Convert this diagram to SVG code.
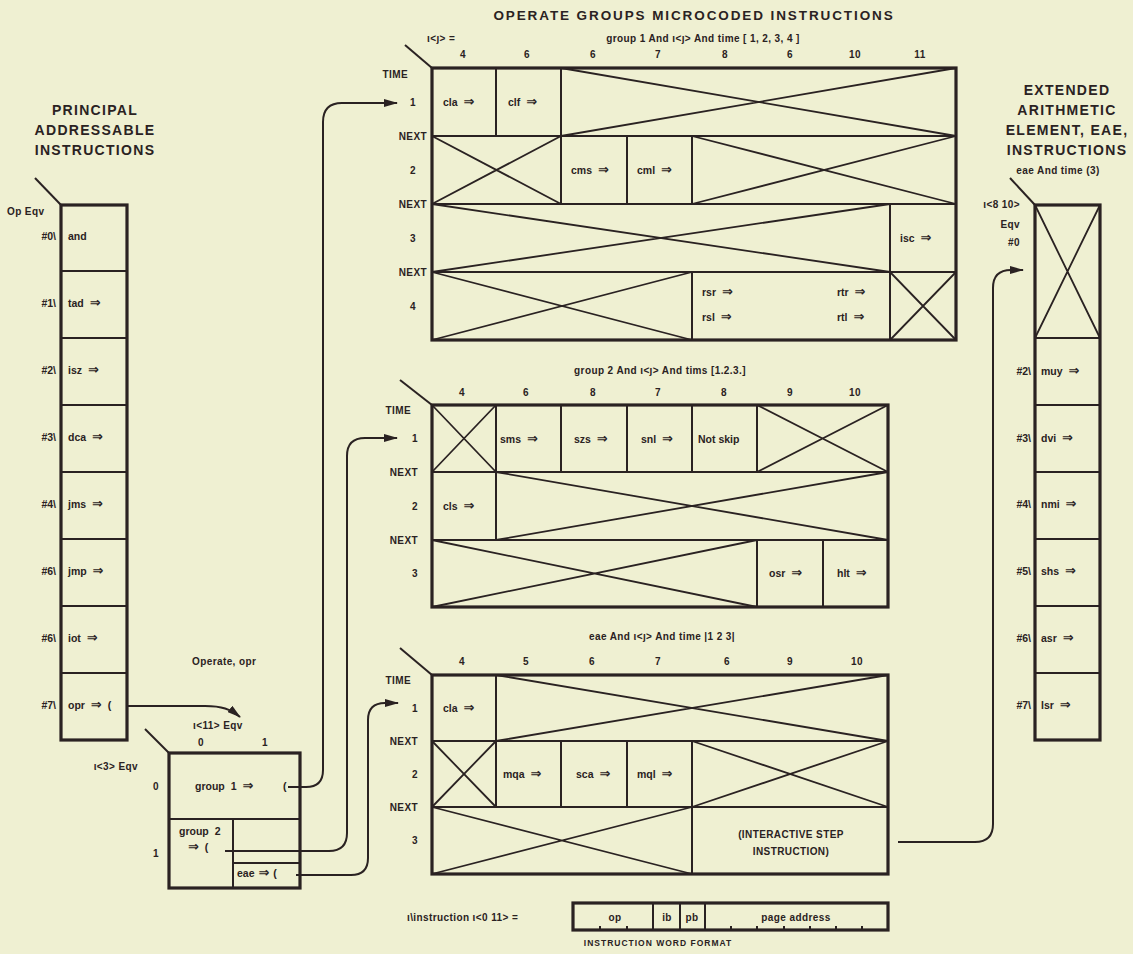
<svg xmlns="http://www.w3.org/2000/svg" width="1133" height="954" viewBox="0 0 1133 954">
<defs>
<style>
.t{font-family:"Liberation Sans","DejaVu Sans",sans-serif;font-weight:bold;fill:#2a2222}
.c{font-size:10.5px;word-spacing:3px}
.s{font-size:10px;letter-spacing:0.4px}
.h{font-size:14px;letter-spacing:1.3px;text-anchor:middle}
.m{text-anchor:middle}
.e{text-anchor:end}
.a{font-family:"DejaVu Sans",sans-serif;font-size:13px;font-weight:bold}
.g{stroke:#2a2222;stroke-width:2;fill:none}
.o{stroke:#2a2222;stroke-width:3.2;fill:none}
.x{stroke:#2a2222;stroke-width:1.8;fill:none}
.k{stroke:#2a2222;stroke-width:2;fill:none}
</style>
<marker id="ah" viewBox="0 0 14 8" refX="13" refY="4" markerWidth="14" markerHeight="8" markerUnits="userSpaceOnUse" orient="auto"><path d="M0,0 L14,4 L0,8 z" fill="#2a2222"/></marker>
</defs>
<rect width="1133" height="954" fill="#eff0d2"/>

<g id="principal">
<text class="t h" x="95" y="115">PRINCIPAL</text>
<text class="t h" x="95" y="135">ADDRESSABLE</text>
<text class="t h" x="95" y="155">INSTRUCTIONS</text>
<path class="g" d="M35,178L61,205"/>
<text class="t s" x="7" y="215">Op Eqv</text>
<rect class="o" x="61" y="205" width="66" height="535"/>
<path class="g" d="M61,271H127M61,338H127M61,405H127M61,472H127M61,539H127M61,606H127M61,673H127"/>
<g class="t c">
<text class="e" x="56" y="240">#0\</text><text x="68" y="240">and</text>
<text class="e" x="56" y="307">#1\</text><text x="68" y="307">tad <tspan class="a">⇒</tspan></text>
<text class="e" x="56" y="374">#2\</text><text x="68" y="374">isz <tspan class="a">⇒</tspan></text>
<text class="e" x="56" y="441">#3\</text><text x="68" y="441">dca <tspan class="a">⇒</tspan></text>
<text class="e" x="56" y="508">#4\</text><text x="68" y="508">jms <tspan class="a">⇒</tspan></text>
<text class="e" x="56" y="575">#6\</text><text x="68" y="575">jmp <tspan class="a">⇒</tspan></text>
<text class="e" x="56" y="642">#6\</text><text x="68" y="642">iot <tspan class="a">⇒</tspan></text>
<text class="e" x="56" y="709">#7\</text><text x="68" y="709">opr <tspan class="a">⇒</tspan> (</text>
</g>
</g>

<g id="operate-title">
<text class="t" x="694" y="20" font-size="13.5" letter-spacing="1.9" text-anchor="middle">OPERATE GROUPS MICROCODED INSTRUCTIONS</text>
<text class="t s" x="427" y="42">ι&lt;ȷ&gt; =</text>
</g>

<g id="group1-grid">
<text class="t s m" x="703" y="42">group  1 And ι&lt;ȷ&gt; And time [ 1, 2, 3, 4 ]</text>
<path class="g" d="M405,45L432,68"/>
<g class="t s m">
<text x="463" y="58">4</text><text x="527" y="58">6</text><text x="593" y="58">6</text><text x="658" y="58">7</text><text x="725" y="58">8</text><text x="790" y="58">6</text><text x="855" y="58">10</text><text x="920" y="58">11</text>
</g>
<g class="t s e">
<text x="408" y="78">TIME</text><text x="416" y="106">1</text><text x="427" y="140">NEXT</text><text x="416" y="174">2</text><text x="427" y="208">NEXT</text><text x="416" y="242">3</text><text x="427" y="276">NEXT</text><text x="416" y="310">4</text>
</g>
<rect class="o" x="432" y="68" width="524" height="272"/>
<path class="g" d="M432,136H956M432,204H956M432,272H956M496,68V136M561,68V136M561,136V204M627,136V204M692,136V204M890,204V272M692,272V340M890,272V340"/>
<path class="x" d="M561,68L956,136M561,136L956,68M432,136L561,204M432,204L561,136M692,136L956,204M692,204L956,136M432,204L890,272M432,272L890,204M432,272L692,340M432,340L692,272M890,272L956,340M890,340L956,272"/>
<g class="t c">
<text x="443" y="106">cla <tspan class="a">⇒</tspan></text><text x="508" y="106">clf <tspan class="a">⇒</tspan></text>
<text x="571" y="174">cms <tspan class="a">⇒</tspan></text><text x="637" y="174">cml <tspan class="a">⇒</tspan></text>
<text x="900" y="242">isc <tspan class="a">⇒</tspan></text>
<text x="702" y="296">rsr <tspan class="a">⇒</tspan></text><text x="702" y="321">rsl <tspan class="a">⇒</tspan></text>
<text x="837" y="296">rtr <tspan class="a">⇒</tspan></text><text x="837" y="321">rtl <tspan class="a">⇒</tspan></text>
</g>
</g>

<g id="group2-grid">
<text class="t s m" x="660" y="374">group 2 And ι&lt;ȷ&gt; And tims [1.2.3.]</text>
<path class="g" d="M400,380L432,405"/>
<g class="t s m">
<text x="462" y="396">4</text><text x="526" y="396">6</text><text x="593" y="396">8</text><text x="658" y="396">7</text><text x="724" y="396">8</text><text x="790" y="396">9</text><text x="855" y="396">10</text>
</g>
<g class="t s e">
<text x="411" y="414">TIME</text><text x="418" y="442">1</text><text x="418" y="476">NEXT</text><text x="418" y="510">2</text><text x="418" y="544">NEXT</text><text x="418" y="577">3</text>
</g>
<rect class="o" x="432" y="405" width="456" height="202"/>
<path class="g" d="M432,472H888M432,540H888M496,405V472M561,405V472M627,405V472M692,405V472M757,405V472M496,472V540M757,540V607M823,540V607"/>
<path class="x" d="M432,405L496,472M432,472L496,405M757,405L888,472M757,472L888,405M496,472L888,540M496,540L888,472M432,540L757,607M432,607L757,540"/>
<g class="t c">
<text x="500" y="443">sms <tspan class="a">⇒</tspan></text><text x="574" y="443">szs <tspan class="a">⇒</tspan></text><text x="641" y="443">snl <tspan class="a">⇒</tspan></text><text x="698" y="443" word-spacing="0">Not skip</text>
<text x="443" y="510">cls <tspan class="a">⇒</tspan></text>
<text x="769" y="577">osr <tspan class="a">⇒</tspan></text><text x="837" y="577">hlt <tspan class="a">⇒</tspan></text>
</g>
</g>

<g id="eae-grid">
<text class="t s m" x="662" y="640">eae And ι&lt;ȷ&gt; And time |1 2 3|</text>
<path class="g" d="M400,648L432,675"/>
<g class="t s m">
<text x="462" y="665">4</text><text x="526" y="665">5</text><text x="592" y="665">6</text><text x="658" y="665">7</text><text x="727" y="665">6</text><text x="790" y="665">9</text><text x="857" y="665">10</text>
</g>
<g class="t s e">
<text x="411" y="684">TIME</text><text x="418" y="712">1</text><text x="418" y="745">NEXT</text><text x="418" y="778">2</text><text x="418" y="811">NEXT</text><text x="418" y="844">3</text>
</g>
<rect class="o" x="432" y="675" width="456" height="199"/>
<path class="g" d="M432,741H888M432,807H888M496,675V741M496,741V807M561,741V807M627,741V807M692,741V807M692,807V874"/>
<path class="x" d="M496,675L888,741M496,741L888,675M432,741L496,807M432,807L496,741M692,741L888,807M692,807L888,741M432,807L692,874M432,874L692,807"/>
<g class="t c">
<text x="443" y="712">cla <tspan class="a">⇒</tspan></text>
<text x="503" y="778">mqa <tspan class="a">⇒</tspan></text><text x="576" y="778">sca <tspan class="a">⇒</tspan></text><text x="637" y="778">mql <tspan class="a">⇒</tspan></text>
</g>
<g class="t s m" font-size="9.5" letter-spacing="1">
<text x="791" y="838">(INTERACTIVE STEP</text><text x="791" y="855">INSTRUCTION)</text>
</g>
</g>

<g id="eae-column">
<text class="t h" x="1067" y="95">EXTENDED</text>
<text class="t h" x="1067" y="115">ARITHMETIC</text>
<text class="t h" x="1067" y="135">ELEMENT, EAE,</text>
<text class="t h" x="1067" y="155">INSTRUCTIONS</text>
<text class="t s m" x="1058" y="174">eae And time (3)</text>
<path class="g" d="M1010,178L1035,205"/>
<text class="t s e" x="1020" y="208">ι&lt;8 10&gt;</text>
<text class="t s e" x="1020" y="228">Eqv</text>
<text class="t s e" x="1020" y="246">#0</text>
<rect class="o" x="1035" y="205" width="65" height="535"/>
<path class="g" d="M1035,338H1100M1035,405H1100M1035,472H1100M1035,539H1100M1035,606H1100M1035,673H1100"/>
<path class="x" d="M1035,205L1100,338M1035,338L1100,205"/>
<g class="t c">
<text class="e" x="1031" y="375">#2\</text><text x="1041" y="375">muy <tspan class="a">⇒</tspan></text>
<text class="e" x="1031" y="442">#3\</text><text x="1041" y="442">dvi <tspan class="a">⇒</tspan></text>
<text class="e" x="1031" y="508">#4\</text><text x="1041" y="508">nmi <tspan class="a">⇒</tspan></text>
<text class="e" x="1031" y="575">#5\</text><text x="1041" y="575">shs <tspan class="a">⇒</tspan></text>
<text class="e" x="1031" y="642">#6\</text><text x="1041" y="642">asr <tspan class="a">⇒</tspan></text>
<text class="e" x="1031" y="709">#7\</text><text x="1041" y="709">lsr <tspan class="a">⇒</tspan></text>
</g>
</g>

<g id="selector">
<text class="t s" x="192" y="665">Operate, opr</text>
<text class="t s" x="193" y="729">ι&lt;11&gt; Eqv</text>
<text class="t s m" x="201" y="746">0</text><text class="t s m" x="265" y="746">1</text>
<text class="t s e" x="138" y="770">ι&lt;3&gt; Eqv</text>
<text class="t s m" x="156" y="790">0</text><text class="t s m" x="156" y="857">1</text>
<path class="g" d="M145,729L169,753"/>
<rect class="o" x="169" y="753" width="131" height="135"/>
<path class="g" d="M169,819H300M233,819V888M233,863H300"/>
<g class="t c">
<text x="195" y="790">group 1 <tspan class="a">⇒</tspan></text><text x="283" y="790">(</text>
<text x="179" y="835">group 2</text><text x="188" y="851"><tspan class="a">⇒</tspan> (</text>
<text x="237" y="877" word-spacing="1">eae <tspan class="a">⇒</tspan> (</text>
</g>
</g>

<g id="instruction-format">
<text class="t s" x="407" y="921">ι\instruction ι&lt;0 11&gt;  =</text>
<rect class="o" x="573" y="903" width="315" height="27" stroke-width="2.6"/>
<path class="g" d="M653,903V930M680,903V930M705,903V930"/>
<path class="k" d="M600,930V926M627,930V926M731,930V926M757,930V926M784,930V926M810,930V926M836,930V926M862,930V926"/>
<g class="t s m">
<text x="615" y="921">op</text><text x="667" y="921">ib</text><text x="692" y="921">pb</text><text x="796" y="921">page address</text>
</g>
<text class="t m" x="658" y="946" font-size="8.5" letter-spacing="1">INSTRUCTION WORD FORMAT</text>
</g>

<g id="connectors">
<path class="k" d="M127,706H205C222,706 230,709 240,717" marker-end="url(#ah)"/>
<path class="k" d="M288,787H306Q323,787 323,770V122Q323,103 342,103H397" marker-end="url(#ah)"/>
<path class="k" d="M225,851H329Q347,851 347,833V456Q347,438 365,438H397" marker-end="url(#ah)"/>
<path class="k" d="M296,875H351Q368,875 368,858V720Q368,703 385,703H398" marker-end="url(#ah)"/>
<path class="k" d="M898,842H975Q993,842 993,824V288Q993,270 1011,270H1023" marker-end="url(#ah)"/>
</g>
</svg>
